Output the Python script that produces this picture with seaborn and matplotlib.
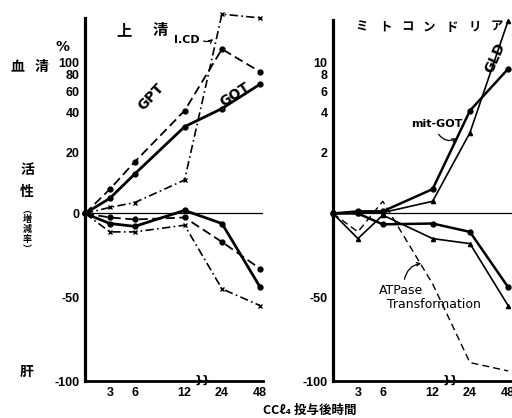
import numpy as np
import pandas as pd
import matplotlib
matplotlib.use('Agg')
import matplotlib.pyplot as plt
import seaborn as sns

# ---------------- data ----------------
hours = [0, 3, 6, 12, 24, 48]
hour_ticks = [3, 6, 12, 24, 48]
hour_labels = ['3', '6', '12', '24', '48']

# left panel: 上清 (supernatant)
serum_gpt = [0, 8, 17, 42, 127, 85]
serum_got = [0, 5, 13, 33, 44, 69]
serum_icd = [0, 2, 3.6, 11, 229, 215]
liver_gpt = [0, -2.4, -3.6, -2.4, -17, -33]
liver_got = [0, -6, -7.7, 1, -6, -44]
liver_icd = [0, -11, -11, -7, -45, -55]

# right panel: ミトコンドリア (mitochondria)
serum_mitgot = [0, 0.07, 0.07, 0.8, 4.2, 9]
serum_gld = [0, 0.03, 0.03, 0.4, 3.0, 20.5]
liver_mitgot = [0, 0, -6.5, -6, -11, -44]
liver_gld = [0, -15, -1, -15, -18, -55]
liver_atpase = [0, -11, 0.4, -42, -89, -94]

left_ticks = [-100, -50, 0, 20, 40, 60, 80, 100]
left_labels = ['-100', '-50', '0', '20', '40', '60', '80', '100']
right_ticks = [-100, -50, 2, 4, 6, 8, 10]
right_labels = ['-100', '-50', '2', '4', '6', '8', '10']

# ---------------- scales ----------------
UP_V = np.array([0, 20, 40, 60, 80, 100], float)
UP_P = np.array([0, 61, 101, 122, 139, 151], float)


def make_yscale(k):
    def fwd(v):
        v = np.asarray(v, float)
        vv = v * k
        lo = v * 1.68
        mid = np.interp(vv, UP_V, UP_P)
        hi = 145 * (np.log10(np.clip(vv, 100, None) + 10) - 1)
        return np.where(v < 0, lo, np.where(vv <= 100, mid, hi))

    def inv(p):
        p = np.asarray(p, float)
        lo = p / 1.68
        mid = np.interp(p, UP_P, UP_V) / k
        hi = (10 ** (np.clip(p, 151, None) / 145 + 1) - 10) / k
        return np.where(p < 0, lo, np.where(p <= 151, mid, hi))
    return fwd, inv


HX = [-20, 0, 3, 6, 12, 24, 48, 72]
PX = [-20, 0, 3, 6, 12, 16.5, 21.1, 25.7]


def xf(h):
    return np.interp(np.asarray(h, float), HX, PX)


def xi(p):
    return np.interp(np.asarray(p, float), PX, HX)


# ---------------- figure ----------------
sns.set_theme(style='white')
plt.rcParams['font.family'] = ['Noto Sans CJK JP', 'DejaVu Sans']

fig = plt.figure(figsize=(5.12, 4.18), dpi=100)
W, H = 512.0, 418.0


def T(x, y, s, **kw):
    kw.setdefault('ha', 'center')
    kw.setdefault('va', 'center')
    kw.setdefault('color', 'black')
    return fig.text(x / W, 1 - y / H, s, **kw)


axL = fig.add_axes([85 / W, (H - 381) / H, 21.4 * 8.3 / W, 363 / H])
axR = fig.add_axes([333 / W, (H - 381) / H, 21.6 * 8.3 / W, 361 / H])

numfont = dict(family=['Liberation Sans', 'DejaVu Sans'], weight='bold', size=9)


def series(ax, y, marker, lw, ms=3.5, dashes=None):
    df = pd.DataFrame({'h': hours, 'v': y})
    sns.lineplot(data=df, x='h', y='v', ax=ax, color='black', lw=lw,
                 marker=marker, markersize=ms, markeredgecolor='black',
                 markerfacecolor='black', markeredgewidth=1.0,
                 estimator=None, sort=False)
    ln = ax.lines[-1]
    ln.set_clip_on(False)
    if dashes is not None:
        ln.set_dashes(dashes)


# left panel series
series(axL, serum_gpt, 'o', 1.3, dashes=(5, 2.5))
series(axL, serum_got, 'o', 2.0)
series(axL, serum_icd, 'x', 1.2, dashes=(5, 2, 1, 2))
series(axL, liver_gpt, 'o', 1.3, dashes=(5, 2.5))
series(axL, liver_got, 'o', 2.0)
series(axL, liver_icd, 'x', 1.2, dashes=(5, 2, 1, 2))

# right panel series
series(axR, serum_mitgot, 'o', 1.8)
series(axR, serum_gld, '^', 1.2, ms=3)
series(axR, liver_mitgot, 'o', 1.8)
series(axR, liver_gld, '^', 1.2, ms=3)
series(axR, liver_atpase, None, 1.0, dashes=(5, 3))

for ax, k, xmax, ptop in ((axL, 1, xi(21.4), 196), (axR, 10, xi(21.6), 194)):
    fwd, inv = make_yscale(k)
    ax.set_yscale('function', functions=(fwd, inv))
    ax.set_xscale('function', functions=(xf, xi))
    ax.set_xlim(0, float(xmax))
    ax.set_ylim(-100, float(inv(ptop)))
    ax.set_facecolor('white')
    for s in ('top', 'right'):
        ax.spines[s].set_visible(False)
    ax.spines['left'].set_linewidth(2.3)
    ax.spines['bottom'].set_linewidth(2.0)
    ax.spines['left'].set_color('black')
    ax.spines['bottom'].set_color('black')
    ax.axhline(0, color='black', lw=0.9, zorder=1)
    ax.set_xticks(hour_ticks)
    ax.set_xticklabels(hour_labels, **numfont)
    ax.tick_params(axis='x', direction='in', length=3, width=1, pad=4, colors='black')
    ax.tick_params(axis='y', direction='out', length=3, width=1, pad=1, colors='black')
    ax.set_xlabel('')
    ax.set_ylabel('')
    ax.grid(False)

axL.set_yticks(left_ticks)
axL.set_yticklabels(left_labels, **numfont)
axR.set_yticks(right_ticks)
axR.set_yticklabels(right_labels, **numfont)

# axis breaks
T(203, 380, '}}', size=8, weight='bold', family=['DejaVu Sans'])
T(451, 380, '}}', size=8, weight='bold', family=['DejaVu Sans'])

# texts
cjk = ['Noto Sans CJK JP', 'DejaVu Sans']
T(124, 30, '上', size=11, weight='bold', family=cjk)
T(160, 30, '清', size=11, weight='bold', family=cjk)
for cx, ch in zip([362, 385, 407, 429, 452, 475, 497], 'ミトコンドリア'):
    T(cx, 27, ch, size=9, weight='bold', family=cjk)
T(17, 67, '血', size=10, weight='bold', family=cjk)
T(42, 67, '清', size=10, weight='bold', family=cjk)
T(62, 47, '%', size=10, weight='bold', family=['DejaVu Sans'])
T(27, 170, '活', size=10, weight='bold', family=cjk)
T(27, 192, '性', size=10, weight='bold', family=cjk)
for cy, ch in zip([210, 219, 229, 239, 249], '︵増減率︶'):
    T(27, cy, ch, size=6.5, weight='bold', family=cjk)
T(27, 372, '肝', size=10, weight='bold', family=cjk)

T(151, 97, 'GPT', size=10, weight='bold', rotation=47, family=['DejaVu Sans'])
T(235, 95, 'GOT', size=10, weight='bold', rotation=33, family=['DejaVu Sans'])
T(187, 40, 'I.CD', size=8, weight='bold', family=['DejaVu Sans'])
fig.add_artist(matplotlib.patches.FancyArrowPatch(
    (201 / W, 1 - 40 / H), (215 / W, 1 - 37 / H), transform=fig.transFigure,
    arrowstyle='->', mutation_scale=6, lw=0.9, color='black',
    connectionstyle='arc3,rad=0.4'))

T(495, 58, 'GLD', size=10, weight='bold', rotation=66, family=['DejaVu Sans'])
T(437, 124, 'mit-GOT', size=8, weight='bold', family=['DejaVu Sans'])
fig.add_artist(matplotlib.patches.FancyArrowPatch(
    (437 / W, 1 - 132 / H), (459 / W, 1 - 137 / H), transform=fig.transFigure,
    arrowstyle='->', mutation_scale=6, lw=0.9, color='black',
    connectionstyle='arc3,rad=0.5'))

T(401, 290, 'ATPase', size=9, family=['DejaVu Sans'])
T(434, 304, 'Transformation', size=9, family=['DejaVu Sans'])
fig.add_artist(matplotlib.patches.FancyArrowPatch(
    (404 / W, 1 - 282 / H), (424 / W, 1 - 263 / H), transform=fig.transFigure,
    arrowstyle='->', mutation_scale=6, lw=0.9, color='black',
    connectionstyle='arc3,rad=-0.4'))

T(310, 410, 'CCℓ₄ 投与後時間', size=9, weight='bold', family=cjk)

fig.savefig('out.png', dpi=100, facecolor='white')
